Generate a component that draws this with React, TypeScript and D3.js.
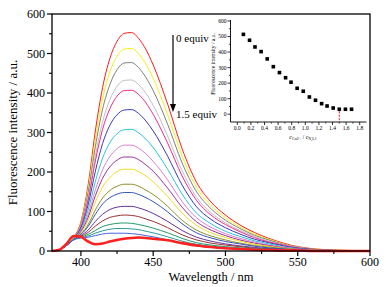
import React from 'react';
import * as d3 from 'd3';

const wavelengths = [380,385,390,395,400,405,410,415,420,425,430,435,440,445,450,460,470,480,490,500,510,520,530,540,550,560,580,600];

const c1 = [0,3,15,34,74,167,304,414,487,531,551,553,538,510,471,372,259,174,124,91,66,47,32,20,11,6,2,0];
const c2 = [0,3,15,33,71,157,283,385,453,493,511,513,499,473,437,345,240,161,115,84,61,43,30,18,10,5,2,0];
const c3 = [0,3,15,33,68,148,264,359,421,459,476,477,464,439,406,321,223,150,107,78,57,40,28,17,10,5,1,0];
const c4 = [0,3,15,32,64,136,241,327,383,417,432,433,421,399,369,291,203,136,97,71,52,37,25,16,9,4,1,0];
const c5 = [0,3,15,32,62,129,228,308,360,392,406,407,396,375,346,273,190,128,91,67,49,34,23,15,8,4,1,0];
const c6 = [0,3,15,32,58,117,202,272,318,345,357,358,348,329,304,240,167,112,80,59,43,30,21,13,7,4,1,0];
const c7 = [0,3,15,31,54,104,176,235,274,297,307,308,299,283,262,207,144,96,69,50,37,26,18,11,6,3,1,0];
const c8 = [0,3,14,31,51,93,155,206,239,259,268,268,260,246,227,180,125,84,60,44,32,23,15,10,5,3,1,0];
const c9 = [0,3,14,30,49,85,140,184,213,230,238,238,231,218,202,159,111,74,53,39,28,20,14,8,5,2,1,0];
const c10 = [0,3,14,30,46,77,124,162,186,201,207,207,201,190,175,138,96,65,46,34,25,17,12,7,4,2,1,0];
const c11 = [0,3,14,30,43,67,104,134,153,164,169,169,164,154,143,113,78,53,38,28,20,14,10,6,3,2,1,0];
const c12 = [0,3,14,29,42,62,93,119,135,144,148,148,143,135,125,99,69,46,33,24,18,12,8,5,3,1,0,0];
const c13 = [0,3,14,29,39,53,75,93,105,111,113,113,109,103,95,75,52,35,25,18,13,9,6,4,2,1,0,0];
const c14 = [0,3,14,29,37,47,63,76,85,89,91,90,87,81,75,59,41,28,20,15,11,7,5,3,2,1,0,0];
const c15 = [0,3,14,29,35,42,52,62,67,70,71,70,67,63,58,46,32,21,15,11,8,6,4,2,1,1,0,0];
const c16 = [0,3,14,29,34,38,45,51,55,57,57,56,54,50,46,36,25,17,12,9,6,5,3,2,1,1,0,0];
const c17 = [0,3,14,28,33,35,39,43,45,45,45,44,42,39,36,28,20,13,9,7,5,4,2,2,1,0,0,0];
const c18 = [0,3,18,38,36,24,17,19,24,28,31,33,34,33,31,27,20,14,10,7,5,3,2,1,1,0,0,0];

const spectra = [c1,c2,c3,c4,c5,c6,c7,c8,c9,c10,c11,c12,c13,c14,c15,c16,c17,c18];
const colors = ['#ff1a1a','#f6ee1c','#808080','#c0c0c0','#f0288c','#3a3ab8','#2cc4d4','#dd80cc','#993399','#eedd22','#8f8f2a','#3355bb','#663399','#993333','#22996a','#2a9a9a','#4466dd','#ff2020'];

const ratio = [0.09,0.18,0.26,0.35,0.44,0.53,0.62,0.71,0.79,0.88,0.97,1.06,1.15,1.24,1.32,1.41,1.50,1.59,1.68];
const insetIntensity = [514,476,433,403,356,306,268,235,206,167,148,111,90,68,53,40,32,32,32];

const xTicks = [400,450,500,550,600];
const xMinor = [425,475,525,575];
const yTicks = [0,100,200,300,400,500,600];
const yMinor = [50,150,250,350,450,550];
const ixTicks = [0,0.2,0.4,0.6,0.8,1.0,1.2,1.4,1.6,1.8];
const iyTicks = [0,100,200,300,400,500,600];

const FONT = '"Liberation Serif", "Times New Roman", serif';

export default function App() {
  const x = d3.scaleLinear().domain([380, 600]).range([52, 370]);
  const y = d3.scaleLinear().domain([0, 600]).range([251, 14]);
  const line = d3.line<number>()
    .x((_, i) => x(wavelengths[i]))
    .y((d) => y(d))
    .curve(d3.curveMonotoneX);

  const ix = d3.scaleLinear().domain([-0.1, 1.9]).range([230.5, 366.5]);
  const iy = d3.scaleLinear().domain([-50, 600]).range([122, 21]);
  const ixMinor = [0.1,0.3,0.5,0.7,0.9,1.1,1.3,1.5,1.7];
  const iyMinor = [50,150,250,350,450,550];

  return (
    <svg width={392} height={287} style={{ position: 'absolute', left: 0, top: 0, background: '#fff' }} fontFamily={FONT}>
      <rect x={0} y={0} width={392} height={287} fill="#fff" />
      {spectra.map((s, i) => (
        <path key={i} d={line(s) || ''} fill="none" stroke={colors[i]} strokeWidth={i === spectra.length - 1 ? 2.6 : 1} />
      ))}
      <rect x={52} y={14} width={318} height={237} fill="none" stroke="#000" strokeWidth={1.3} />
      {xTicks.map(t => (
        <g key={t}>
          <line x1={x(t)} x2={x(t)} y1={251} y2={256} stroke="#000" strokeWidth={1.2} />
          <text x={x(t)} y={266} fontSize={12} textAnchor="middle">{t}</text>
        </g>
      ))}
      {xMinor.map(t => (
        <line key={t} x1={x(t)} x2={x(t)} y1={251} y2={254} stroke="#000" strokeWidth={1.1} />
      ))}
      {yTicks.map(t => (
        <g key={t}>
          <line x1={47} x2={52} y1={y(t)} y2={y(t)} stroke="#000" strokeWidth={1.2} />
          <text x={45} y={y(t)} dy="0.35em" fontSize={12} textAnchor="end">{t}</text>
        </g>
      ))}
      {yMinor.map(t => (
        <line key={t} x1={49} x2={52} y1={y(t)} y2={y(t)} stroke="#000" strokeWidth={1.1} />
      ))}
      <text x={211} y={281} fontSize={12.5} textAnchor="middle">Wavelength / nm</text>
      <text transform={`translate(17,${(14 + 251) / 2}) rotate(-90)`} fontSize={13} textAnchor="middle">Fluorescence intensity / a.u.</text>

      <line x1={173} x2={173} y1={35} y2={106} stroke="#000" strokeWidth={1.2} />
      <polygon points="170,104 176,104 173,112" fill="#000" />
      <text x={176} y={42} fontSize={11}>0 equiv</text>
      <text x={176} y={118} fontSize={11}>1.5 equiv</text>

      <line x1={ix(-0.1)} x2={ix(-0.1)} y1={20} y2={122} stroke="#000" strokeWidth={0.9} />
      <line x1={ix(-0.1)} x2={ix(1.9)} y1={122} y2={122} stroke="#000" strokeWidth={0.9} />
      {iyTicks.map(t => (
        <g key={t}>
          <line x1={ix(-0.1) - 3} x2={ix(-0.1)} y1={iy(t)} y2={iy(t)} stroke="#000" strokeWidth={0.8} />
          <text x={ix(-0.1) - 4} y={iy(t)} dy="0.35em" fontSize={5.5} textAnchor="end">{t}</text>
        </g>
      ))}
      {iyMinor.map(t => (
        <line key={t} x1={ix(-0.1) - 1.6} x2={ix(-0.1)} y1={iy(t)} y2={iy(t)} stroke="#000" strokeWidth={0.7} />
      ))}
      {ixTicks.map(t => (
        <g key={t}>
          <line x1={ix(t)} x2={ix(t)} y1={122} y2={125} stroke="#000" strokeWidth={0.8} />
          <text x={ix(t)} y={130} fontSize={5.5} textAnchor="middle">{t.toFixed(1)}</text>
        </g>
      ))}
      {ixMinor.map(t => (
        <line key={t} x1={ix(t)} x2={ix(t)} y1={122} y2={123.6} stroke="#000" strokeWidth={0.7} />
      ))}
      <line x1={ix(1.5)} x2={ix(1.5)} y1={iy(32) + 2} y2={122} stroke="#e82020" strokeWidth={1} strokeDasharray="2,1.5" />
      {ratio.map((r, i) => (
        <rect key={i} x={ix(r) - 1.8} y={iy(insetIntensity[i]) - 1.8} width={3.6} height={3.6} fill="#000" />
      ))}
      <text transform={`translate(215,64) rotate(-90)`} fontSize={5.5} textAnchor="middle">Fluorescence intensity / a.u.</text>
      <text x={303} y={138.5} fontSize={6} textAnchor="middle">
        <tspan fontStyle="italic">c</tspan>
        <tspan fontSize={4} dy={1.5}>Cu2+</tspan>
        <tspan dy={-1.5}> / </tspan>
        <tspan fontStyle="italic">c</tspan>
        <tspan fontSize={4} dy={1.5}>N,L1</tspan>
      </text>
    </svg>
  );
}
